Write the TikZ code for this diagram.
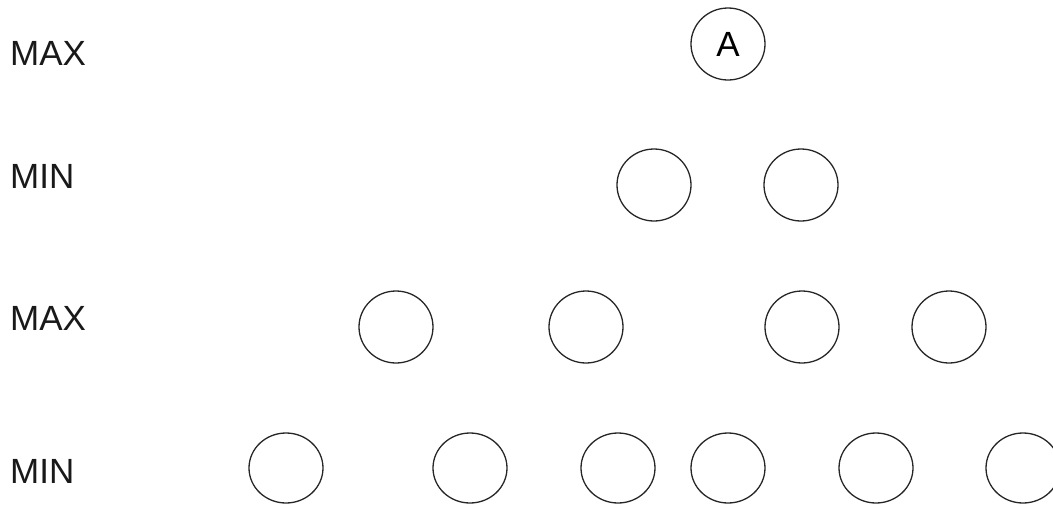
\documentclass[tikz,border=0pt]{standalone}
\usepackage{fontspec}
\setmainfont{Liberation Sans}
\usetikzlibrary{shapes.geometric}
\begin{document}
\begin{tikzpicture}[x=1pt,y=1pt,
  lvl/.style={anchor=base west,inner sep=0pt,font=\fontsize{35}{35}\selectfont,text=black!90},
  gnode/.style={ellipse,draw=black!85,line width=1.3pt,minimum width=74pt,minimum height=72pt,inner sep=0pt,font=\fontsize{35}{35}\selectfont}]
\useasboundingbox (0,0) rectangle (1053,-504);
\node[lvl] (l1) at (10,-65) {MAX};
\node[lvl] (l2) at (10,-188) {MIN};
\node[lvl] (l3) at (10,-330) {MAX};
\node[lvl] (l4) at (10,-483) {MIN};
\node[gnode] (a) at (728,-44) {A};
\node[gnode] (b1) at (654,-185) {};
\node[gnode] (b2) at (801,-185) {};
\node[gnode] (c1) at (396,-327) {};
\node[gnode] (c2) at (586,-327) {};
\node[gnode] (c3) at (802,-327) {};
\node[gnode] (c4) at (949,-327) {};
\node[gnode,minimum height=70pt] (d1) at (286,-468) {};
\node[gnode,minimum height=70pt] (d2) at (470,-468) {};
\node[gnode,minimum height=70pt] (d3) at (618,-468) {};
\node[gnode,minimum height=70pt] (d4) at (728,-468) {};
\node[gnode,minimum height=70pt] (d5) at (876,-468) {};
\node[gnode,minimum height=70pt] (d6) at (1023,-468) {};
\end{tikzpicture}
\end{document}
